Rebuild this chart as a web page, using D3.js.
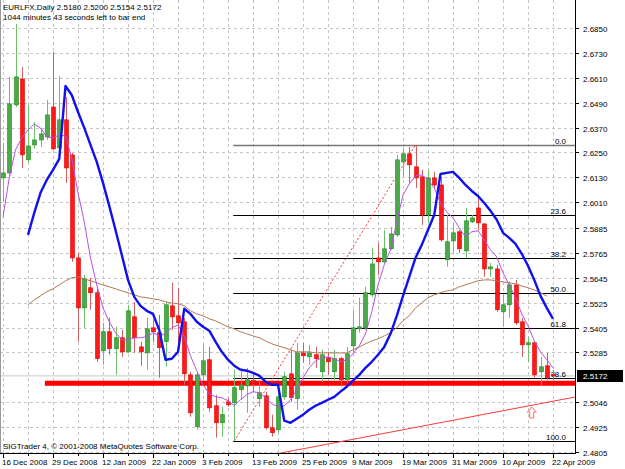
<!DOCTYPE html>
<html>
<head>
<meta charset="utf-8">
<script src="https://cdn.jsdelivr.net/npm/d3@7"></script>
<style>
  html, body { margin: 0; padding: 0; background: #fff; }
  svg { display: block; font-family: "Liberation Sans", Arial, sans-serif; }
</style>
</head>
<body>
<div id="chart"></div>
<script>
// Daily EURLFX bars, 16 Dec 2008 .. 22 Apr 2009 (one entry per bar)
const dateLabels = ["16 Dec 2008", "29 Dec 2008", "12 Jan 2009", "22 Jan 2009", "3 Feb 2009", "13 Feb 2009",
  "25 Feb 2009", "9 Mar 2009", "19 Mar 2009", "31 Mar 2009", "10 Apr 2009", "22 Apr 2009"];
const barsPerLabel = 8;

const priceTicks = ["2.6850", "2.6730", "2.6610", "2.6490", "2.6370", "2.6250", "2.6130", "2.6010", "2.5885",
  "2.5765", "2.5645", "2.5525", "2.5405", "2.5285", "2.5046", "2.4925", "2.4805"];

const opens = [2.6127, 2.6151, 2.6479, 2.6604, 2.6214, 2.6286, 2.6310, 2.6325, 2.6469, 2.6272,
  2.6407, 2.6238, 2.5741, 2.5500, 2.5597, 2.5573, 2.5293, 2.5385, 2.5303, 2.5356,
  2.5288, 2.5457, 2.5312, 2.5283, 2.5404, 2.5380, 2.5337, 2.5510, 2.5462, 2.5433,
  2.5177, 2.4927, 2.5177, 2.5250, 2.5028, 2.4946, 2.5047, 2.5042, 2.5105, 2.5124,
  2.5149, 2.5062, 2.5076, 2.4922, 2.4912, 2.5071, 2.5182, 2.5062, 2.5283, 2.5264,
  2.5274, 2.5192, 2.5259, 2.5192, 2.5255, 2.5153, 2.5317, 2.5399, 2.5404, 2.5563,
  2.5741, 2.5722, 2.5785, 2.5852, 2.6204, 2.6243, 2.6180, 2.6132, 2.5949, 2.6127,
  2.6093, 2.5732, 2.5823, 2.5867, 2.5775, 2.5915, 2.5982, 2.5905, 2.5688, 2.5688,
  2.5481, 2.5515, 2.5611, 2.5433, 2.5322, 2.5332, 2.5192, 2.5221, 2.5180];

const highs = [2.6296, 2.6614, 2.6869, 2.6662, 2.6479, 2.6397, 2.6368, 2.6503, 2.6734, 2.6619,
  2.6517, 2.6247, 2.5765, 2.5659, 2.5645, 2.5602, 2.5428, 2.5452, 2.5409, 2.5394,
  2.5515, 2.5529, 2.5337, 2.5452, 2.5443, 2.5467, 2.5529, 2.5621, 2.5597, 2.5452,
  2.5192, 2.5192, 2.5322, 2.5312, 2.5081, 2.5023, 2.5067, 2.5202, 2.5211, 2.5211,
  2.5187, 2.5153, 2.5096, 2.4985, 2.5096, 2.5192, 2.5298, 2.5332, 2.5332, 2.5322,
  2.5312, 2.5298, 2.5288, 2.5298, 2.5264, 2.5312, 2.5491, 2.5549, 2.5602, 2.5790,
  2.5814, 2.5876, 2.5891, 2.6238, 2.6272, 2.6276, 2.6286, 2.6166, 2.6166, 2.6156,
  2.6132, 2.5949, 2.5910, 2.5876, 2.5982, 2.5949, 2.6035, 2.5910, 2.5717, 2.5708,
  2.5563, 2.5626, 2.5635, 2.5452, 2.5361, 2.5335, 2.5264, 2.5283, 2.5200];

const lows = [2.6011, 2.6137, 2.6469, 2.6175, 2.6199, 2.6267, 2.6276, 2.6310, 2.6262, 2.6267,
  2.6103, 2.5722, 2.5337, 2.5404, 2.5491, 2.5240, 2.5226, 2.5274, 2.5177, 2.5264,
  2.5283, 2.5283, 2.5221, 2.5202, 2.5337, 2.5163, 2.5216, 2.5394, 2.5312, 2.5129,
  2.4975, 2.4912, 2.5149, 2.4999, 2.4874, 2.4879, 2.5023, 2.4858, 2.5057, 2.4994,
  2.5096, 2.5023, 2.4912, 2.4879, 2.4898, 2.5057, 2.5047, 2.5009, 2.5235, 2.5226,
  2.5211, 2.5144, 2.5177, 2.5149, 2.5120, 2.5139, 2.5283, 2.5380, 2.5394, 2.5553,
  2.5659, 2.5717, 2.5780, 2.5843, 2.6132, 2.6103, 2.6079, 2.5900, 2.5910, 2.6079,
  2.5819, 2.5698, 2.5765, 2.5765, 2.5741, 2.5910, 2.5876, 2.5650, 2.5650, 2.5481,
  2.5409, 2.5452, 2.5418, 2.5264, 2.5240, 2.5163, 2.5129, 2.5153, 2.5154];

const closes = [2.6151, 2.6484, 2.6614, 2.6238, 2.6281, 2.6310, 2.6339, 2.6431, 2.6267, 2.6407,
  2.6175, 2.5741, 2.5500, 2.5640, 2.5573, 2.5255, 2.5385, 2.5303, 2.5356, 2.5288,
  2.5486, 2.5356, 2.5288, 2.5399, 2.5385, 2.5308, 2.5515, 2.5457, 2.5428, 2.5182,
  2.4994, 2.5177, 2.5245, 2.5018, 2.4946, 2.4985, 2.5033, 2.5115, 2.5129, 2.5153,
  2.5134, 2.5091, 2.4922, 2.4898, 2.5071, 2.5168, 2.5067, 2.5283, 2.5269, 2.5283,
  2.5255, 2.5274, 2.5240, 2.5255, 2.5153, 2.5279, 2.5404, 2.5409, 2.5573, 2.5712,
  2.5722, 2.5785, 2.5857, 2.6214, 2.6243, 2.6190, 2.6127, 2.5949, 2.6127, 2.6093,
  2.5828, 2.5819, 2.5862, 2.5785, 2.5920, 2.5934, 2.5910, 2.5688, 2.5698, 2.5491,
  2.5515, 2.5611, 2.5428, 2.5322, 2.5332, 2.5177, 2.5216, 2.5163, 2.5172];

// indicator lines, read per bar
const blueLine = [null, null, null, null, 2.5852, 2.5958, 2.6055, 2.6117, 2.6166, 2.6219,
  2.6570, 2.6527, 2.6445, 2.6368, 2.6286, 2.6204, 2.6103, 2.5992, 2.5876, 2.5756,
  2.5635, 2.5553, 2.5510, 2.5486, 2.5471, 2.5394, 2.5250, 2.5255, 2.5288, 2.5496,
  2.5471, 2.5433, 2.5409, 2.5390, 2.5337, 2.5288, 2.5250, 2.5221, 2.5202, 2.5197,
  2.5187, 2.5173, 2.5144, 2.5129, 2.5129, 2.4956, 2.4946, 2.4965, 2.4985, 2.5009,
  2.5028, 2.5042, 2.5057, 2.5071, 2.5096, 2.5120, 2.5149, 2.5177, 2.5211, 2.5240,
  2.5274, 2.5312, 2.5375, 2.5462, 2.5558, 2.5650, 2.5741, 2.5804, 2.5876, 2.5949,
  2.6146, 2.6151, 2.6156, 2.6127, 2.6093, 2.6064, 2.6040, 2.6006, 2.5968, 2.5925,
  2.5862, 2.5838, 2.5809, 2.5761, 2.5703, 2.5635, 2.5558, 2.5500, 2.5447];

const violetLine = [2.5939, 2.6127, 2.6262, 2.6320, 2.6358, 2.6387, 2.6368, 2.6325, 2.6320, 2.6334,
  2.6329, 2.6223, 2.6055, 2.5915, 2.5741, 2.5611, 2.5500, 2.5433, 2.5380, 2.5346,
  2.5346, 2.5356, 2.5356, 2.5361, 2.5380, 2.5365, 2.5375, 2.5404, 2.5418, 2.5361,
  2.5269, 2.5197, 2.5129, 2.5086, 2.5071, 2.5067, 2.5052, 2.5028, 2.5057, 2.5081,
  2.5096, 2.5091, 2.5067, 2.5038, 2.5023, 2.5028, 2.5057, 2.5105, 2.5163, 2.5211,
  2.5245, 2.5259, 2.5264, 2.5255, 2.5240, 2.5250, 2.5279, 2.5317, 2.5375, 2.5481,
  2.5611, 2.5708, 2.5780, 2.5915, 2.6045, 2.6098, 2.6137, 2.6141, 2.6117, 2.6079,
  2.6006, 2.5963, 2.5934, 2.5886, 2.5843, 2.5867, 2.5872, 2.5828, 2.5780, 2.5746,
  2.5669, 2.5611, 2.5549, 2.5471, 2.5414, 2.5341, 2.5288, 2.5250, 2.5211];

const brownLine = [null, null, null, null, 2.5515, 2.5539, 2.5558, 2.5578, 2.5592, 2.5611,
  2.5631, 2.5645, 2.5650, 2.5640, 2.5631, 2.5621, 2.5611, 2.5602, 2.5592, 2.5582,
  2.5573, 2.5563, 2.5553, 2.5549, 2.5544, 2.5539, 2.5529, 2.5524, 2.5520, 2.5510,
  2.5486, 2.5471, 2.5462, 2.5447, 2.5438, 2.5423, 2.5409, 2.5399, 2.5385, 2.5375,
  2.5365, 2.5356, 2.5341, 2.5327, 2.5317, 2.5308, 2.5298, 2.5288, 2.5288, 2.5288,
  2.5283, 2.5283, 2.5283, 2.5283, 2.5283, 2.5283, 2.5298, 2.5312, 2.5327, 2.5341,
  2.5351, 2.5365, 2.5380, 2.5404, 2.5438, 2.5462, 2.5500, 2.5524, 2.5549, 2.5563,
  2.5573, 2.5582, 2.5587, 2.5602, 2.5611, 2.5621, 2.5631, 2.5635, 2.5635, 2.5631,
  2.5626, 2.5621, 2.5616, 2.5606, 2.5597, 2.5587, 2.5573, 2.5558, null];

// drawing objects
const fibLevels = [0, 23.6, 38.2, 50, 61.8, 78.6, 100];
const fibLowBar = 37, fibLowPrice = 2.4858;
const fibHighBar = 66, fibHighPrice = 2.6286;
const supportPrice = 2.5136, supportStartBar = 6.7;
const trendBars = [42.7, 91.5], trendPrices = [2.4790, 2.5070];
const arrowBar = 84.6, arrowPrice = 2.5022;

const headerLines = ["EURLFX,Daily  2.5180 2.5200 2.5154 2.5172", "1044 minutes 43 seconds left to bar end"];
const copyright = "SIGTrader 4, \u00a9 2001-2008 MetaQuotes Software Corp.";

// ---- layout ----
const W = 625, H = 469;
const plotRight = 575, plotBottom = 453;
const fontSize = 8;

const svg = d3.select("#chart").append("svg")
  .attr("width", W).attr("height", H);

svg.append("rect").attr("width", W).attr("height", H).attr("fill", "#fff");

const x = d3.scaleLinear().domain([0, 88]).range([3, 553]);
const y = d3.scaleLinear().domain([2.4805, 2.6850]).range([452, 28]);

svg.append("clipPath").attr("id", "plot")
  .append("rect").attr("x", 0).attr("y", 0).attr("width", plotRight).attr("height", plotBottom);

const plot = svg.append("g").attr("clip-path", "url(#plot)");

// grid
const gridColor = "#c4c4c4";
plot.append("g").selectAll("line")
  .data(priceTicks)
  .join("line")
  .attr("x1", 0).attr("x2", plotRight)
  .attr("y1", d => Math.round(y(+d)) + 0.5).attr("y2", d => Math.round(y(+d)) + 0.5)
  .attr("stroke", gridColor).attr("stroke-dasharray", "3,3");

const gridBars = d3.range(0, 92, 4);
plot.append("g").selectAll("line")
  .data(gridBars)
  .join("line")
  .attr("x1", d => Math.round(x(d)) + 0.5).attr("x2", d => Math.round(x(d)) + 0.5)
  .attr("y1", 0).attr("y2", plotBottom)
  .attr("stroke", gridColor).attr("stroke-dasharray", "3,3");

// bid line
const lastClose = closes[closes.length - 1];
plot.append("line")
  .attr("x1", 0).attr("x2", plotRight)
  .attr("y1", y(lastClose)).attr("y2", y(lastClose))
  .attr("stroke", "#c8c8c8").attr("stroke-width", 1);

// fibonacci levels
const fibRange = fibHighPrice - fibLowPrice;
const fibG = plot.append("g");
fibLevels.forEach(lv => {
  const p = fibHighPrice - fibRange * lv / 100;
  const yy = Math.round(y(p)) + 0.5;
  fibG.append("line")
    .attr("x1", x(fibLowBar) - 1).attr("x2", plotRight)
    .attr("y1", yy).attr("y2", yy)
    .attr("stroke", lv === 0 ? "#777" : "#000")
    .attr("stroke-width", lv === 0 ? 1.5 : 1);
  fibG.append("text")
    .attr("x", 566).attr("y", yy - 2)
    .attr("text-anchor", "end")
    .attr("font-size", fontSize)
    .attr("fill", "#000")
    .text(lv.toFixed(1));
});

// fib anchor (dashed red)
plot.append("line")
  .attr("x1", x(fibLowBar)).attr("y1", y(fibLowPrice))
  .attr("x2", x(fibHighBar)).attr("y2", y(fibHighPrice))
  .attr("stroke", "#ff3030").attr("stroke-dasharray", "2,2");

// support line and trend line
plot.append("line")
  .attr("x1", x(supportStartBar)).attr("x2", plotRight)
  .attr("y1", y(supportPrice)).attr("y2", y(supportPrice))
  .attr("stroke", "#ff0000").attr("stroke-width", 5);

plot.append("line")
  .attr("x1", x(trendBars[0])).attr("y1", y(trendPrices[0]))
  .attr("x2", x(trendBars[1])).attr("y2", y(trendPrices[1]))
  .attr("stroke", "#ff3a3a").attr("stroke-width", 1);

// candles
const bars = opens.map((o, i) => ({ i, o, h: highs[i], l: lows[i], c: closes[i] }));
const bodyW = 4;
const candles = plot.append("g").selectAll("g")
  .data(bars)
  .join("g");

candles.append("line")
  .attr("x1", d => Math.round(x(d.i)) + 0.5).attr("x2", d => Math.round(x(d.i)) + 0.5)
  .attr("y1", d => y(d.h)).attr("y2", d => y(d.l))
  .attr("stroke", d => d.c >= d.o ? "#6cc06c" : "#d06060")
  .attr("stroke-width", 1);

candles.append("rect")
  .attr("x", d => Math.round(x(d.i)) + 0.5 - bodyW / 2)
  .attr("width", bodyW)
  .attr("y", d => y(Math.max(d.o, d.c)))
  .attr("height", d => Math.max(1, Math.abs(y(d.o) - y(d.c))))
  .attr("fill", d => d.c >= d.o ? "#4aaa4a" : "#ff1a1a")
  .attr("stroke", d => d.c >= d.o ? "#1e8c1e" : "#e00000")
  .attr("stroke-width", 0.6);

// indicator lines
const lineGen = d3.line()
  .defined(d => d != null)
  .x((d, i) => x(i))
  .y(d => y(d));

plot.append("path").datum(brownLine)
  .attr("d", lineGen).attr("fill", "none")
  .attr("stroke", "#b07a5a").attr("stroke-width", 1);

plot.append("path").datum(violetLine)
  .attr("d", lineGen).attr("fill", "none")
  .attr("stroke", "#b850e0").attr("stroke-width", 1);

plot.append("path").datum(blueLine)
  .attr("d", lineGen).attr("fill", "none")
  .attr("stroke", "#1010f0").attr("stroke-width", 2.4)
  .attr("stroke-linejoin", "round");

// up arrow marker
const ax = x(arrowBar), ay = y(arrowPrice);
plot.append("path")
  .attr("d", `M${ax},${ay} L${ax + 4.5},${ay + 5} L${ax + 2},${ay + 5} L${ax + 2},${ay + 11} ` +
    `L${ax - 2},${ay + 11} L${ax - 2},${ay + 5} L${ax - 4.5},${ay + 5} Z`)
  .attr("fill", "#fff").attr("stroke", "#ff6a6a").attr("stroke-width", 1);

// frame
svg.append("line").attr("x1", 0.5).attr("x2", 0.5).attr("y1", 0).attr("y2", plotBottom)
  .attr("stroke", "#9a9a9a").attr("stroke-width", 1);
svg.append("line").attr("x1", plotRight + 0.5).attr("x2", plotRight + 0.5).attr("y1", 0).attr("y2", plotBottom + 1)
  .attr("stroke", "#000");
svg.append("line").attr("x1", 0).attr("x2", plotRight + 1).attr("y1", plotBottom + 0.5).attr("y2", plotBottom + 0.5)
  .attr("stroke", "#000");

// price axis
const yAxis = svg.append("g");
priceTicks.forEach(t => {
  const yy = Math.round(y(+t)) + 0.5;
  yAxis.append("line").attr("x1", plotRight).attr("x2", plotRight + 4)
    .attr("y1", yy).attr("y2", yy).attr("stroke", "#000");
  yAxis.append("text").attr("x", plotRight + 8).attr("y", yy + 3)
    .attr("font-size", fontSize).attr("fill", "#000").text(t);
});

// current price box
const cy = Math.round(y(lastClose));
svg.append("rect").attr("x", plotRight + 2).attr("y", cy - 6).attr("width", 46).attr("height", 12).attr("fill", "#000");
svg.append("text").attr("x", plotRight + 8).attr("y", cy + 3)
  .attr("font-size", fontSize).attr("fill", "#fff").text(lastClose.toFixed(4));

// time axis
const xAxis = svg.append("g");
d3.range(0, 92, 4).forEach(b => {
  const xx = Math.round(x(b)) + 0.5;
  xAxis.append("line").attr("x1", xx).attr("x2", xx)
    .attr("y1", plotBottom).attr("y2", plotBottom + (b % barsPerLabel === 0 ? 5 : 3))
    .attr("stroke", "#000");
});
dateLabels.forEach((lab, k) => {
  xAxis.append("text")
    .attr("x", Math.round(x(k * barsPerLabel)) - 1).attr("y", 465)
    .attr("font-size", fontSize).attr("fill", "#000").text(lab);
});

// header and copyright
headerLines.forEach((t, k) => {
  svg.append("text").attr("x", 3).attr("y", 10 + k * 10)
    .attr("font-size", fontSize).attr("fill", "#000").text(t);
});
svg.append("text").attr("x", 3).attr("y", 449)
  .attr("font-size", fontSize).attr("fill", "#000").text(copyright);
</script>
</body>
</html>
